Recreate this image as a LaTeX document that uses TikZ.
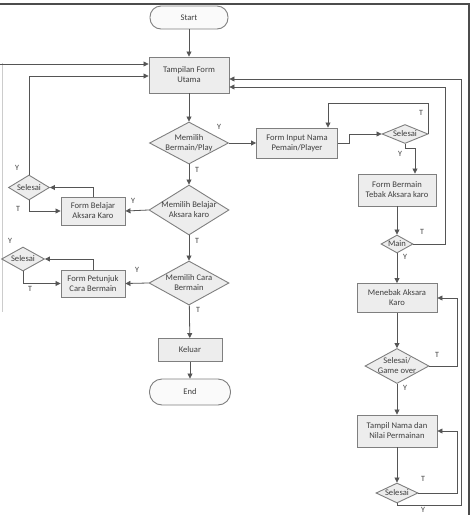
\documentclass[tikz,border=0pt]{standalone}
\usepackage{fontspec}
\setmainfont{Carlito}
\usetikzlibrary{shapes.geometric,arrows.meta}
\definecolor{bord}{HTML}{7F7F7F}
\definecolor{fillb}{HTML}{EDEDED}
\definecolor{fillt}{HTML}{FAFAFA}
\definecolor{linec}{HTML}{555555}
\definecolor{txt}{HTML}{404040}
\begin{document}
\begin{tikzpicture}[x=1pt,y=-1pt,
  font=\fontsize{8.6}{10}\selectfont, text=txt,
  proc/.style={draw=bord, fill=fillb, line width=0.9pt, inner sep=1pt, align=center},
  term/.style={draw=bord, fill=fillt, line width=0.9pt, rounded corners=11pt, inner sep=1pt, align=center},
  dia/.style={draw=bord, fill=fillb, line width=0.9pt, shape=diamond, inner sep=0pt},
  every label/.style={align=center, text=txt, font=\fontsize{8.6}{10}\selectfont},
  arr/.style={draw=linec, line width=0.8pt, -{Triangle[length=5pt,width=5pt]}},
  ln/.style={draw=linec, line width=0.8pt},
  lab/.style={font=\fontsize{8}{9}\selectfont, text=txt, inner sep=0pt}]
\useasboundingbox (0,0) rectangle (474,515);
% frame
\draw[draw=black!70, line width=1.1pt] (0,4) -- (469,4) -- (469,515);
\draw[draw=black!20, line width=0.8pt] (2,63) -- (2,312);

% main column
\node[term, minimum width=78, minimum height=23] (start) at (189,17.5) {Start};
\node[proc, minimum width=80, minimum height=36] (tamp) at (189,75) {Tampilan Form\\Utama};
\node[dia, minimum width=79, minimum height=42, label=center:{Memilih\\Bermain/Play}] (mb) at (189,143) {};
\node[dia, minimum width=80, minimum height=50, label=center:{Memilih Belajar\\Aksara karo}] (mbel) at (189,210) {};
\node[dia, minimum width=80, minimum height=44, label=center:{Memilih Cara\\Bermain}] (mcb) at (189,283) {};
\node[proc, minimum width=64, minimum height=23] (kel) at (190,350) {Keluar};
\node[term, minimum width=81, minimum height=26, rounded corners=12.5pt] (end) at (190,392) {End};

% left side
\node[proc, minimum width=64, minimum height=28] (fbel) at (93,211) {Form Belajar\\Aksara Karo};
\node[dia, minimum width=41, minimum height=25, label=center:{Selesai}] (sel1) at (29,187.5) {};
\node[proc, minimum width=64, minimum height=27] (fpet) at (93,283.5) {Form Petunjuk\\Cara Bermain};
\node[dia, minimum width=43, minimum height=24, label=center:{Selesai}] (sel4) at (23,259) {};

% right side
\node[proc, minimum width=81, minimum height=30] (fin) at (297,143) {Form Input Nama\\Pemain/Player};
\node[dia, minimum width=46, minimum height=19, label=center:{Selesai}] (sel2) at (405,134) {};
\node[proc, minimum width=78, minimum height=32] (fbt) at (397,190) {Form Bermain\\Tebak Aksara karo};
\node[dia, minimum width=32, minimum height=18, label=center:{Main}] (main) at (397,244) {};
\node[proc, minimum width=80, minimum height=29] (men) at (397,298) {Menebak Aksara\\Karo};
\node[dia, minimum width=64, minimum height=35, label=center:{Selesai/\\Game over}] (sgo) at (397,366) {};
\node[proc, minimum width=80, minimum height=32] (tnp) at (397,431) {Tampil Nama dan\\Nilai Permainan};
\node[dia, minimum width=42, minimum height=20, label=center:{Selesai}] (sel3) at (397,493) {};

\coordinate (L1) at (0,64);

% main column connectors
\draw[arr] (start) -- (tamp);
\draw[arr] (L1) -- (tamp.west |- L1);
\draw[arr] (tamp) -- (mb);
\draw[arr] (mb) -- (mbel);
\draw[arr] (mbel) -- (mcb);
\draw[arr] (mcb) -- (kel);
\draw[arr] (kel) -- (end);

% left connectors
\draw[arr] (mbel.west) -- (fbel.east);
\draw[arr] (fbel.north) |- (sel1.east);
\draw[arr] (sel1.south) |- (fbel.west);
\draw[arr] (sel1.north) |- ([yshift=-1pt]tamp.west);
\draw[arr] (mcb.west) -- (fpet.east);
\draw[arr] (fpet.north) |- (sel4.east);
\draw[arr] (sel4.south) |- (fpet.west);

% right connectors
\draw[arr] (mb.east) -- (fin.west);
\draw[arr] (fin.east) -- ++(11,0) |- (sel2.west);
\draw[arr] (sel2.east) |- (328,103) -- ([xshift=31pt]fin.north);
\draw[arr] (sel2.south) -- ++(0,4) -| ([xshift=18pt]fbt.north);
\draw[arr] (fbt) -- (main);
\draw[arr] (main.east) -| (445,87) -- ([yshift=-12pt]tamp.east);
\draw[arr] (main) -- (men);
\draw[arr] (men) -- (sgo);
\draw[arr] (sgo.east) -- ++(28,0) |- (men.east);
\draw[arr] (sgo) -- (tnp);
\draw[arr] (tnp) -- (sel3);
\draw[arr] (sel3.east) -- ++(39,0) |- (tnp.east);
\draw[arr] (sel3.south) -- ++(0,2) -| (461,79) -- ([yshift=-4pt]tamp.east);

% Y / T labels
\node[lab] at (219,127) {Y};
\node[lab] at (197,170) {T};
\node[lab] at (133,201) {Y};
\node[lab] at (197,241) {T};
\node[lab] at (137,270) {Y};
\node[lab] at (198,310) {T};
\node[lab] at (17,168) {Y};
\node[lab] at (18,209) {T};
\node[lab] at (10,241) {Y};
\node[lab] at (30,289) {T};
\node[lab] at (421,113) {T};
\node[lab] at (400,154) {Y};
\node[lab] at (422,232) {T};
\node[lab] at (405,257) {Y};
\node[lab] at (437,355) {T};
\node[lab] at (405,388) {Y};
\node[lab] at (423,479) {T};
\node[lab] at (423,510) {Y};
\end{tikzpicture}
\end{document}
